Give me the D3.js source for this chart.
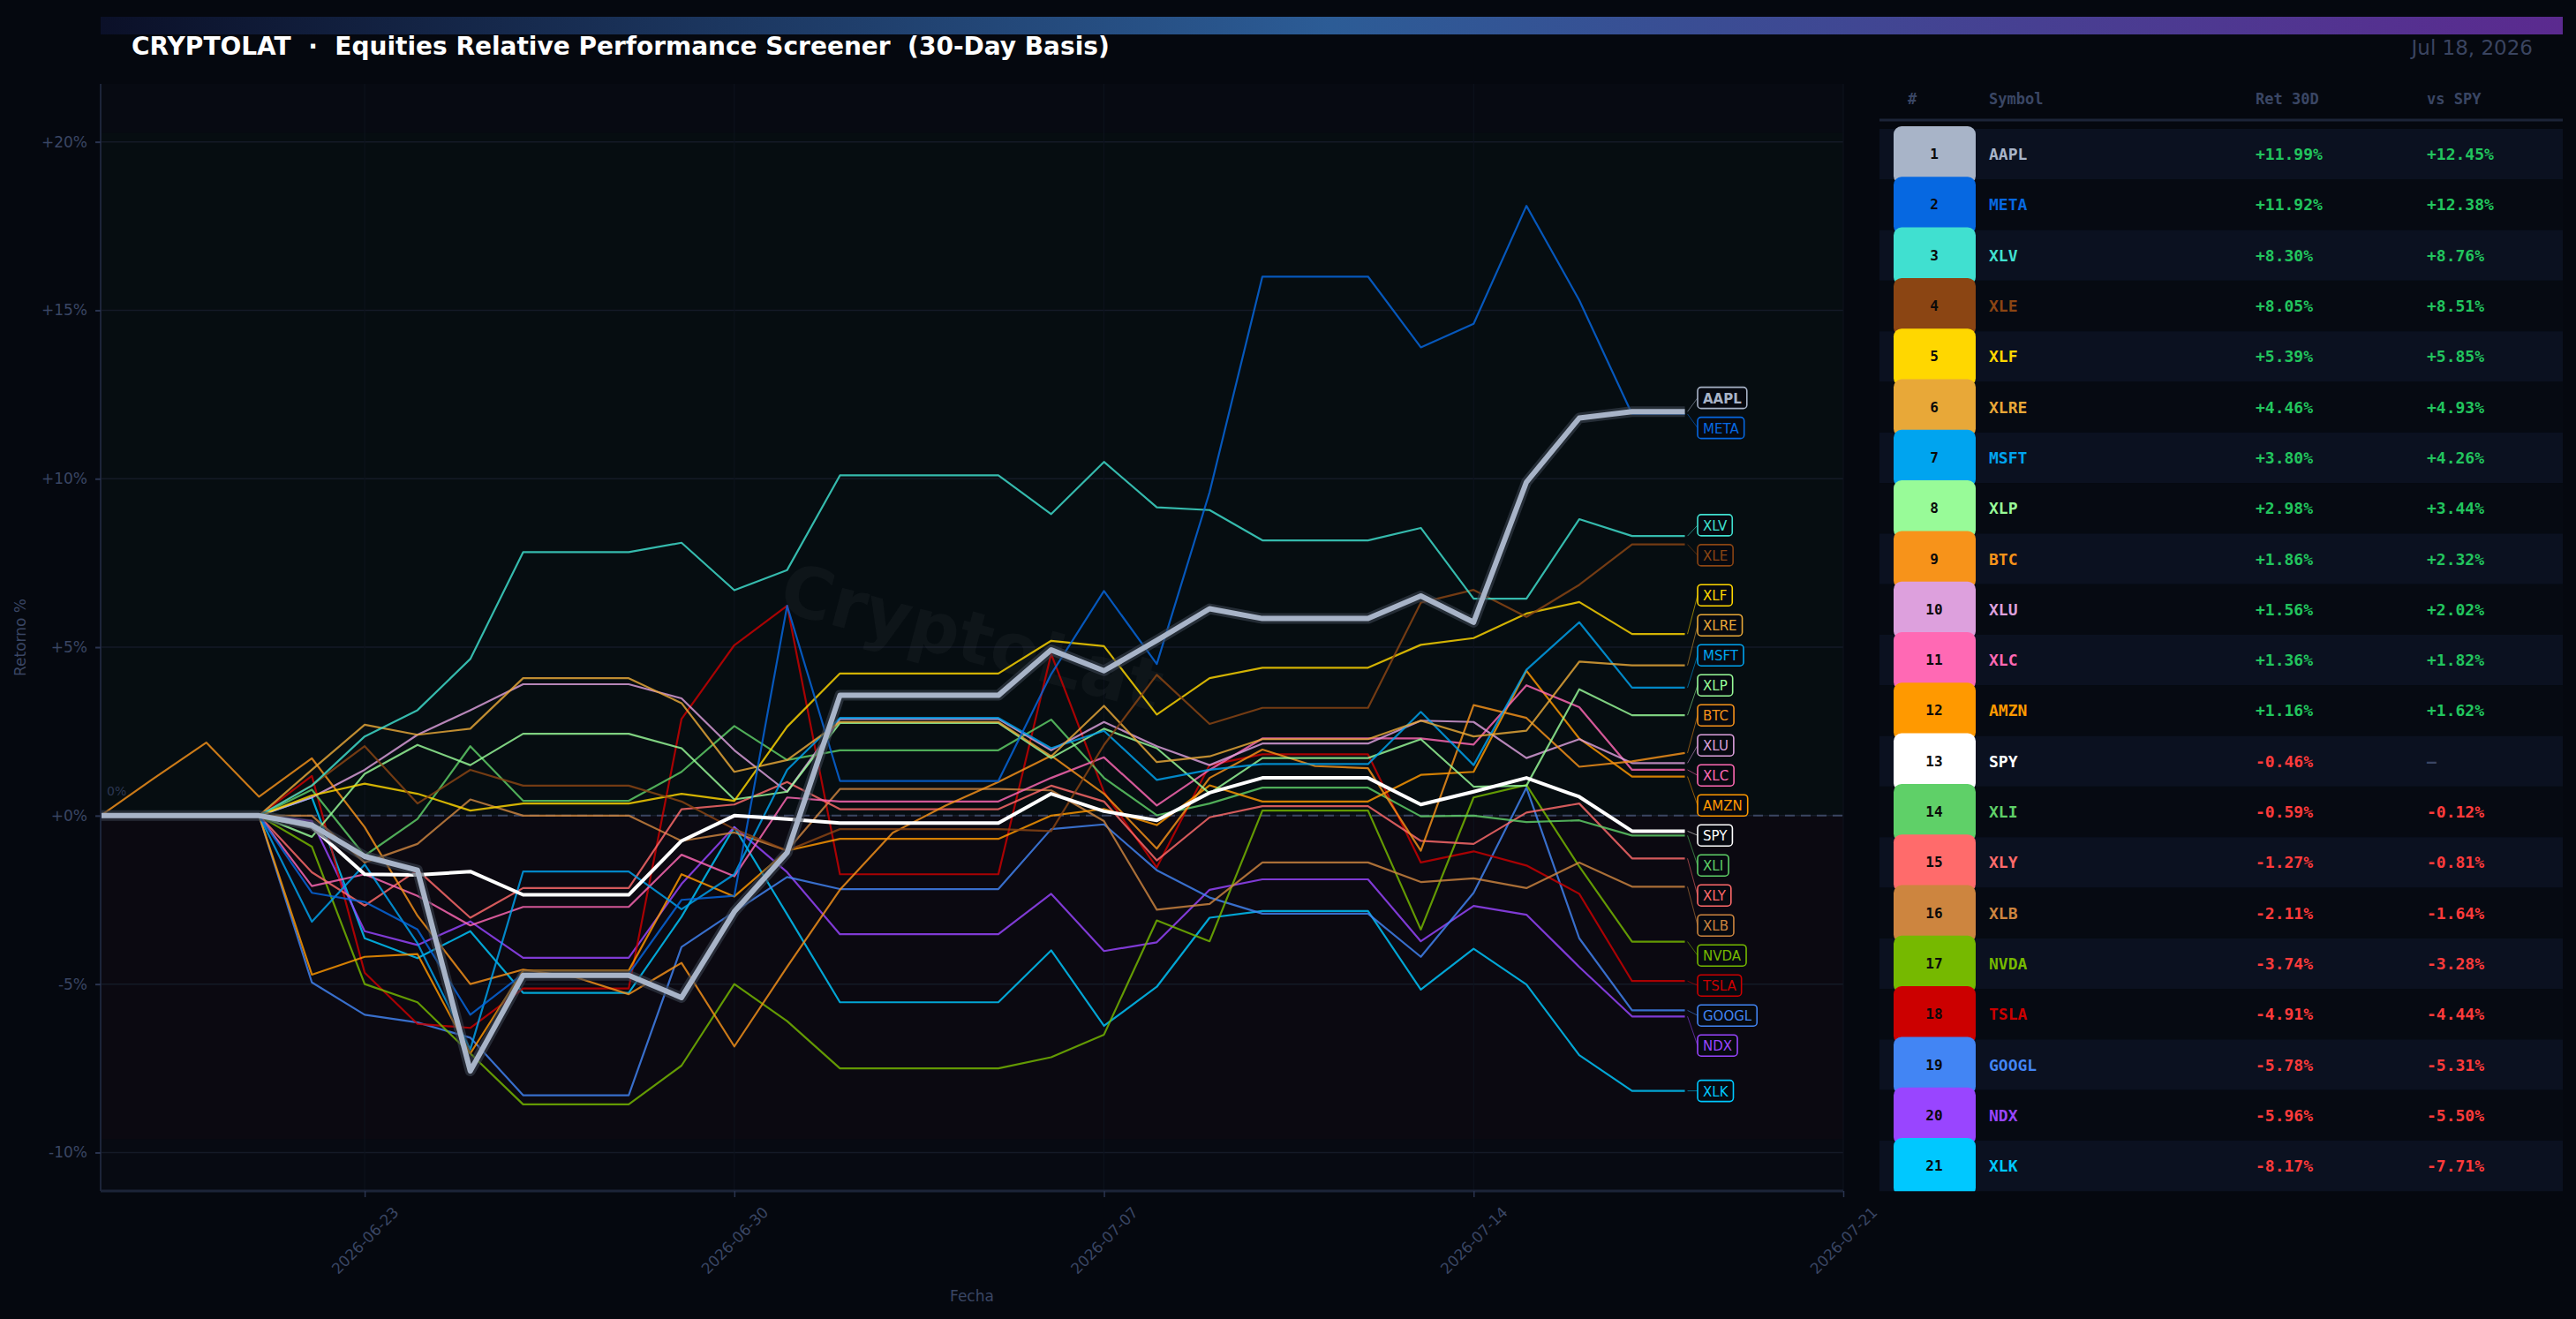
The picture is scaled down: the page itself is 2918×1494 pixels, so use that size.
<!DOCTYPE html>
<html>
<head>
<meta charset="utf-8">
<script src="https://cdn.jsdelivr.net/npm/d3@7"></script>
<style>
  html, body { margin: 0; padding: 0; background: #05080f; }
  svg { display: block; }
</style>
</head>
<body>
<svg id="chart" width="2918" height="1494"></svg>
<script>
const W = 2918, H = 1494;

// calendar days of the 30-day window (equities flat on weekends / holidays)
const dates = [
  "2026-06-18","2026-06-19","2026-06-20","2026-06-21","2026-06-22","2026-06-23","2026-06-24",
  "2026-06-25","2026-06-26","2026-06-27","2026-06-28","2026-06-29","2026-06-30","2026-07-01",
  "2026-07-02","2026-07-03","2026-07-04","2026-07-05","2026-07-06","2026-07-07","2026-07-08",
  "2026-07-09","2026-07-10","2026-07-11","2026-07-12","2026-07-13","2026-07-14","2026-07-15",
  "2026-07-16","2026-07-17","2026-07-18"
];
const xTickDates = ["2026-06-23", "2026-06-30", "2026-07-07", "2026-07-14", "2026-07-21"];
const yTicks = [-10, -5, 0, 5, 10, 15, 20];

// ranking table (sorted by 30D return)
const symbols = ["AAPL","META","XLV","XLE","XLF","XLRE","MSFT","XLP","BTC","XLU","XLC",
                 "AMZN","SPY","XLI","XLY","XLB","NVDA","TSLA","GOOGL","NDX","XLK"];
const colors = ["#A8B4C8","#0668E1","#40E0D0","#8B4513","#FFD700","#E8A838","#00A4EF",
                "#98FB98","#F7931A","#DDA0DD","#FF69B4","#FF9900","#FFFFFF","#5FD068",
                "#FF6B6B","#CD853F","#76B900","#CC0000","#4285F4","#9945FF","#00C8FF"];
const ret30 = [11.99, 11.92, 8.30, 8.05, 5.39, 4.46, 3.80, 2.98, 1.86, 1.56, 1.36,
               1.16, -0.46, -0.59, -1.27, -2.11, -3.74, -4.91, -5.78, -5.96, -8.17];
const vsSpy = [12.45, 12.38, 8.76, 8.51, 5.85, 4.93, 4.26, 3.44, 2.32, 2.02, 1.82,
               1.62, null, -0.12, -0.81, -1.64, -3.28, -4.44, -5.31, -5.50, -7.71];

// cumulative return (%) per calendar day
const AAPL  = [0,0,0,0, -0.28,-1.21,-1.62,-7.58,-4.74,-4.74,-4.74, -5.40,-2.85,-1.10,3.57,3.57,3.57,3.57, 4.92,4.30,5.20,6.14,5.85,5.85,5.85, 6.52,5.74,9.90,11.80,11.99,11.99];
const META  = [0,0,0,0, -2.29,-2.56,-3.38,-5.91,-4.70,-4.70,-4.70, -2.50,-2.38,6.23,1.03,1.03,1.03,1.03, 4.20,6.67,4.50,9.60,16.00,16.00,16.00, 13.90,14.60,18.10,15.30,11.92,11.92];
const XLV   = [0,0,0,0, 0.89,2.35,3.13,4.65,7.82,7.82,7.82, 8.10,6.69,7.29,10.10,10.10,10.10,10.10, 8.95,10.50,9.15,9.07,8.17,8.17,8.17, 8.54,6.44,6.44,8.80,8.30,8.30];
const XLE   = [0,0,0,0, 0.90,2.06,0.36,1.36,0.89,0.89,0.89, 0.42,-0.40,-1.04,-0.40,-0.40,-0.40,-0.40, -0.46,2.10,4.18,2.72,3.20,3.20,3.20, 6.32,6.70,5.90,6.85,8.05,8.05];
const XLF   = [0,0,0,0, 0.60,0.95,0.65,0.15,0.36,0.36,0.36, 0.65,0.44,2.64,4.22,4.22,4.22,4.22, 5.19,5.03,3.00,4.08,4.39,4.39,4.39, 5.07,5.27,6.00,6.34,5.39,5.39];
const XLRE  = [0,0,0,0, 1.36,2.70,2.40,2.58,4.08,4.08,4.08, 3.34,1.30,1.65,2.78,2.78,2.78,2.78, 1.76,3.26,1.59,1.76,2.27,2.27,2.27, 2.82,2.35,2.52,4.57,4.46,4.46];
const MSFT  = [0,0,0,0, -3.15,-1.45,-3.79,-6.94,-1.66,-1.66,-1.66, -2.78,-1.74,1.36,2.90,2.90,2.90,2.90, 2.00,2.52,1.06,1.36,1.53,1.53,1.53, 3.08,1.50,4.33,5.74,3.80,3.80];
const XLP   = [0,0,0,0, -0.63,1.24,2.10,1.50,2.43,2.43,2.43, 2.00,0.48,0.71,2.75,2.75,2.75,2.75, 1.71,2.58,2.00,0.66,1.71,1.71,1.71, 2.27,0.86,0.89,3.75,2.98,2.98];
const BTC   = [0,1.10,2.17,0.56, 1.70,-0.34,-2.97,-5.00,-4.57,-4.80,-5.30, -4.37,-6.85,-4.49,-2.20,-0.51,0.30,1.00, 1.78,0.65,-0.98,1.12,1.96,1.47,1.41, -1.04,3.28,2.90,1.45,1.61,1.86];
const XLU   = [0,0,0,0, 0.54,1.36,2.40,3.13,3.90,3.90,3.90, 3.48,1.94,0.71,2.87,2.87,2.87,2.87, 1.94,2.78,2.06,1.50,2.14,2.14,2.14, 2.82,2.78,1.71,2.27,1.56,1.56];
const XLC   = [0,0,0,0, -2.09,-1.74,-2.38,-3.26,-2.71,-2.71,-2.71, -1.16,-1.80,0.54,0.42,0.42,0.42,0.42, 1.12,1.73,0.30,1.36,2.29,2.29,2.29, 2.29,2.11,3.87,3.22,1.36,1.36];
const AMZN  = [0,0,0,0, -4.72,-4.19,-4.11,-7.06,-4.60,-4.60,-4.60, -1.74,-2.40,-1.04,-0.69,-0.69,-0.69,-0.69, 0.00,0.20,-0.28,0.90,0.42,0.42,0.42, 1.21,1.30,4.30,2.29,1.16,1.16];
const SPY   = [0,0,0,0, -0.34,-1.74,-1.76,-1.66,-2.35,-2.35,-2.35, -0.75,0.00,-0.10,-0.22,-0.22,-0.22,-0.22, 0.65,0.13,-0.14,0.68,1.12,1.12,1.12, 0.33,0.71,1.12,0.56,-0.46,-0.46];
const XLI   = [0,0,0,0, 0.77,-1.19,-0.10,2.06,0.44,0.44,0.44, 1.30,2.66,1.65,1.94,1.94,1.94,1.94, 2.85,1.12,0.01,0.36,0.83,0.83,0.83, -0.02,0.00,-0.19,-0.14,-0.59,-0.59];
const XLY   = [0,0,0,0, -1.68,-2.67,-1.62,-3.03,-2.15,-2.15,-2.15, 0.19,0.33,1.00,0.19,0.19,0.19,0.19, 0.89,0.42,-1.33,-0.05,0.28,0.28,0.28, -0.75,-0.84,0.09,0.36,-1.27,-1.27];
const XLB   = [0,0,0,0, 0.00,-1.39,-0.84,0.48,0.00,0.00,0.00, -0.75,-0.50,-1.04,0.79,0.79,0.79,0.79, 0.75,-0.16,-2.79,-2.62,-1.39,-1.39,-1.39, -1.97,-1.86,-2.15,-1.39,-2.11,-2.11];
const NVDA  = [0,0,0,0, -0.92,-5.00,-5.54,-7.06,-8.57,-8.57,-8.57, -7.42,-5.00,-6.10,-7.50,-7.50,-7.50,-7.50, -7.17,-6.50,-3.11,-3.73,0.15,0.15,0.15, -3.38,0.54,0.91,-1.51,-3.74,-3.74];
const TSLA  = [0,0,0,0, 1.18,-4.66,-6.18,-6.30,-5.13,-5.13,-5.13, 2.87,5.06,6.23,-1.74,-1.74,-1.74,-1.74, 4.80,0.70,-1.54,1.50,1.82,1.82,1.82, -1.39,-1.06,-1.48,-2.32,-4.91,-4.91];
const GOOGL = [0,0,0,0, -4.95,-5.91,-6.14,-6.59,-8.30,-8.30,-8.30, -3.90,-2.85,-1.82,-2.18,-2.18,-2.18,-2.18, -0.40,-0.26,-1.62,-2.43,-2.91,-2.91,-2.91, -4.19,-2.29,0.83,-3.64,-5.78,-5.78];
const NDX   = [0,0,0,0, -0.16,-3.43,-3.84,-3.14,-4.22,-4.22,-4.22, -2.03,-0.34,-1.68,-3.52,-3.52,-3.52,-3.52, -2.32,-4.02,-3.76,-2.20,-1.89,-1.89,-1.89, -3.73,-2.68,-2.94,-4.49,-5.96,-5.96];
const XLK   = [0,0,0,0, 0.54,-3.64,-4.23,-3.43,-5.26,-5.26,-5.26, -3.00,-0.34,-2.93,-5.54,-5.54,-5.54,-5.54, -4.00,-6.24,-5.08,-3.03,-2.83,-2.83,-2.83, -5.16,-3.95,-5.01,-7.11,-8.17,-8.17];

const seriesBySymbol = { AAPL, META, XLV, XLE, XLF, XLRE, MSFT, XLP, BTC, XLU, XLC,
                         AMZN, SPY, XLI, XLY, XLB, NVDA, TSLA, GOOGL, NDX, XLK };

const parseDate = d3.utcParse("%Y-%m-%d");
const dayList = dates.map(parseDate);
const rows = symbols.map((s, i) => ({
  sym: s, rank: i + 1, color: colors[i], ret: ret30[i], vs: vsSpy[i],
  values: seriesBySymbol[s].map((v, k) => ({ date: dayList[k], v }))
}));

// layout
const plot = { left: 114, right: 2088, top: 95, bottom: 1349 };
const table = { left: 2129, right: 2903, rowTop: 146, rowH: 57.3 };
const AXIS_COL = "#3a4664";
const GRID_COL = "#141a27";

const svg = d3.select("#chart");
const defs = svg.append("defs");

svg.append("rect").attr("width", W).attr("height", H).attr("fill", "#05080f");

// header gradient strip
const grad = defs.append("linearGradient").attr("id", "hdr").attr("x1", "0%").attr("x2", "100%");
grad.append("stop").attr("offset", "0%").attr("stop-color", "#0b1028");
grad.append("stop").attr("offset", "50%").attr("stop-color", "#2c5c96");
grad.append("stop").attr("offset", "100%").attr("stop-color", "#5b2a8f");
svg.append("rect").attr("x", 114).attr("y", 19).attr("width", 2903 - 114).attr("height", 20)
  .attr("fill", "url(#hdr)");

svg.append("text").attr("x", 149).attr("y", 62)
  .attr("font-family", "DejaVu Sans").attr("font-weight", "bold").attr("font-size", 28)
  .attr("fill", "#ffffff")
  .text("CRYPTOLAT  \u00b7  Equities Relative Performance Screener  (30-Day Basis)")
  .style("white-space", "pre");

svg.append("text").attr("x", 2869).attr("y", 62).attr("text-anchor", "end")
  .attr("font-family", "DejaVu Sans").attr("font-size", 23).attr("fill", "#3a4460")
  .text("Jul 18, 2026");

// scales
const allVals = rows.flatMap(r => r.values.map(d => d.v));
const vMin = d3.min(allVals), vMax = d3.max(allVals);
const x = d3.scaleUtc()
  .domain([parseDate("2026-06-18"), parseDate("2026-07-21")])
  .range([plot.left, plot.right]);
const y = d3.scaleLinear()
  .domain([vMin * 1.3, vMax * 1.2])
  .range([plot.bottom, plot.top]);

// plot background and positive / negative zones
const g = svg.append("g");
g.append("rect").attr("x", plot.left).attr("y", plot.top)
  .attr("width", plot.right - plot.left).attr("height", plot.bottom - plot.top)
  .attr("fill", "#070a12");
g.append("rect").attr("x", plot.left).attr("y", y(vMax * 1.12))
  .attr("width", plot.right - plot.left).attr("height", y(0) - y(vMax * 1.12))
  .attr("fill", "#060d11");
g.append("rect").attr("x", plot.left).attr("y", y(0))
  .attr("width", plot.right - plot.left).attr("height", y(vMin * 1.12) - y(0))
  .attr("fill", "#0b0911");

// grid
g.selectAll(".hgrid").data(yTicks).join("line").attr("class", "hgrid")
  .attr("x1", plot.left).attr("x2", plot.right)
  .attr("y1", d => y(d)).attr("y2", d => y(d))
  .attr("stroke", GRID_COL).attr("stroke-width", 1.5);
g.selectAll(".vgrid").data(xTickDates.map(parseDate)).join("line").attr("class", "vgrid")
  .attr("x1", d => x(d)).attr("x2", d => x(d))
  .attr("y1", plot.top).attr("y2", plot.bottom)
  .attr("stroke", "#0e131e").attr("stroke-width", 1);

// zero reference
g.append("line").attr("x1", plot.left).attr("x2", plot.right)
  .attr("y1", y(0)).attr("y2", y(0))
  .attr("stroke", "#3b4662").attr("stroke-width", 2).attr("stroke-dasharray", "11,7");
g.append("text").attr("x", plot.left + 7).attr("y", y(0) - 28)
  .attr("dominant-baseline", "central")
  .attr("font-family", "DejaVu Sans").attr("font-size", 14).attr("fill", "#2c3752")
  .text("0%");

// watermark
g.append("text")
  .attr("transform", `translate(${(plot.left + plot.right) / 2},${(plot.top + plot.bottom) / 2}) rotate(15)`)
  .attr("text-anchor", "middle").attr("dominant-baseline", "central")
  .attr("font-family", "DejaVu Sans").attr("font-weight", "bold").attr("font-size", 80)
  .attr("fill", "#ffffff").attr("fill-opacity", 0.035)
  .text("CryptoLat");

// lines: others (lowest first), then SPY, then AAPL on top
const line = d3.line().x(d => x(d.date)).y(d => y(d.v));
const others = rows.filter(r => r.sym !== "AAPL" && r.sym !== "SPY").reverse();
const spyRow = rows.find(r => r.sym === "SPY");
const aaplRow = rows.find(r => r.sym === "AAPL");

g.selectAll(".series").data(others).join("path").attr("class", "series")
  .attr("d", r => line(r.values))
  .attr("fill", "none").attr("stroke", r => r.color)
  .attr("stroke-width", 2.2).attr("stroke-opacity", 0.82)
  .attr("stroke-linejoin", "round");

g.append("path").attr("d", line(spyRow.values))
  .attr("fill", "none").attr("stroke", "#ffffff").attr("stroke-width", 4)
  .attr("stroke-linejoin", "round");

g.append("path").attr("d", line(aaplRow.values))
  .attr("fill", "none").attr("stroke", "#3a4250").attr("stroke-opacity", 0.6)
  .attr("stroke-width", 12).attr("stroke-linejoin", "round");
g.append("path").attr("d", line(aaplRow.values))
  .attr("fill", "none").attr("stroke", aaplRow.color).attr("stroke-width", 6)
  .attr("stroke-linejoin", "round");

// axes
const yAxis = d3.axisLeft(y).tickValues(yTicks).tickSize(6).tickPadding(9)
  .tickFormat(d => (d >= 0 ? "+" : "") + d + "%");
const yAxisG = svg.append("g").attr("transform", `translate(${plot.left},0)`).call(yAxis);
yAxisG.select(".domain").attr("stroke", "#1c2438").attr("stroke-width", 2)
  .attr("d", `M0,${plot.top}V${plot.bottom}`);
yAxisG.selectAll(".tick line").attr("stroke", "#2a3450").attr("stroke-width", 2);
yAxisG.selectAll(".tick text").attr("fill", AXIS_COL)
  .attr("font-family", "DejaVu Sans").attr("font-size", 17);

const xAxis = d3.axisBottom(x).tickValues(xTickDates.map(parseDate)).tickSize(7)
  .tickFormat(d3.utcFormat("%Y-%m-%d"));
const xAxisG = svg.append("g").attr("transform", `translate(0,${plot.bottom})`).call(xAxis);
xAxisG.select(".domain").attr("stroke", "#1c2438").attr("stroke-width", 3)
  .attr("d", `M${plot.left},0H${plot.right}`);
xAxisG.selectAll(".tick line").attr("stroke", "#2a3450").attr("stroke-width", 1.5);
xAxisG.selectAll(".tick text").attr("fill", AXIS_COL)
  .attr("font-family", "DejaVu Sans").attr("font-size", 17)
  .attr("y", 0).attr("dy", null)
  .attr("text-anchor", "middle").attr("dominant-baseline", "central")
  .attr("transform", "translate(0,56) rotate(-45)");

svg.append("text")
  .attr("transform", `translate(23,${(plot.top + plot.bottom) / 2}) rotate(-90)`)
  .attr("text-anchor", "middle").attr("dominant-baseline", "central")
  .attr("font-family", "DejaVu Sans").attr("font-size", 17).attr("fill", AXIS_COL)
  .text("Retorno %");
svg.append("text").attr("x", (plot.left + plot.right) / 2).attr("y", 1468)
  .attr("text-anchor", "middle").attr("dominant-baseline", "central")
  .attr("font-family", "DejaVu Sans").attr("font-size", 17).attr("fill", AXIS_COL)
  .text("Fecha");

// end labels, spread apart so they do not overlap
const GAP = 34;
const lastDate = dayList[dayList.length - 1];
const endLabels = rows.map(r => ({ row: r, target: y(r.values[r.values.length - 1].v) }))
  .sort((a, b) => a.target - b.target);
let groups = endLabels.map(it => ({ members: [it], pos: it.target }));
let merged = true;
while (merged) {
  merged = false;
  for (let k = 0; k < groups.length - 1; k++) {
    const g1 = groups[k], g2 = groups[k + 1];
    const end1 = g1.pos + (g1.members.length - 1) * GAP;
    if (g2.pos - end1 < GAP) {
      const members = g1.members.concat(g2.members);
      const mean = d3.mean(members, m => m.target);
      groups.splice(k, 2, { members, pos: mean - (members.length - 1) * GAP / 2 });
      merged = true;
      break;
    }
  }
}
groups.forEach(gr => gr.members.forEach((m, j) => { m.ly = gr.pos + j * GAP; }));

const labelX = 1923;
const lab = svg.append("g");
endLabels.forEach(m => {
  const c = m.row.color;
  lab.append("line").attr("x1", x(lastDate) + 3).attr("y1", m.target)
    .attr("x2", labelX).attr("y2", m.ly)
    .attr("stroke", c).attr("stroke-opacity", 0.55).attr("stroke-width", 1);
  const box = lab.append("rect").attr("x", labelX).attr("y", m.ly - 12)
    .attr("height", 24).attr("rx", 4)
    .attr("fill", "#060910").attr("stroke", c).attr("stroke-width", 1.6);
  const t = lab.append("text").attr("x", labelX + 6).attr("y", m.ly + 1)
    .attr("dominant-baseline", "central")
    .attr("font-family", "DejaVu Sans").attr("font-size", 15)
    .attr("font-weight", m.row.sym === "AAPL" ? "bold" : "normal")
    .attr("fill", c).text(m.row.sym);
  box.attr("width", t.node().getComputedTextLength() + 12);
});

// ranking table
const tb = svg.append("g");
defs.append("clipPath").attr("id", "tbl-clip").append("rect")
  .attr("x", table.left).attr("y", 130)
  .attr("width", table.right - table.left)
  .attr("height", table.rowTop + rows.length * table.rowH - 130);

const MONO = "DejaVu Sans Mono";
const headers = [["#", 2161], ["Symbol", 2253], ["Ret 30D", 2555], ["vs SPY", 2749]];
tb.selectAll(".hdr").data(headers).join("text").attr("class", "hdr")
  .attr("x", d => d[1]).attr("y", 112).attr("dominant-baseline", "central")
  .attr("font-family", MONO).attr("font-weight", "bold").attr("font-size", 17)
  .attr("fill", AXIS_COL).text(d => d[0]);
tb.append("line").attr("x1", table.left).attr("x2", table.right)
  .attr("y1", 136).attr("y2", 136).attr("stroke", "#1c2438").attr("stroke-width", 3);

const rowY = i => table.rowTop + i * table.rowH;
tb.selectAll(".stripe").data(rows).join("rect").attr("class", "stripe")
  .attr("x", table.left).attr("y", (d, i) => rowY(i))
  .attr("width", table.right - table.left).attr("height", table.rowH)
  .attr("fill", (d, i) => i % 2 === 0 ? "#0b1120" : "#060a12");

const badges = tb.append("g").attr("clip-path", "url(#tbl-clip)");
badges.selectAll(".badge").data(rows).join("rect").attr("class", "badge")
  .attr("x", 2145).attr("y", (d, i) => rowY(i) - 3)
  .attr("width", 93).attr("height", table.rowH + 8).attr("rx", 9)
  .attr("fill", d => d.color);
badges.selectAll(".rank").data(rows).join("text").attr("class", "rank")
  .attr("x", 2191).attr("y", (d, i) => rowY(i) + table.rowH / 2)
  .attr("text-anchor", "middle").attr("dominant-baseline", "central")
  .attr("font-family", MONO).attr("font-weight", "bold").attr("font-size", 16)
  .attr("fill", "#0a0a0a").text(d => d.rank);

const GREEN = "#22C55E", RED = "#FF3B3B";
const fmt = v => (v >= 0 ? "+" : "-") + Math.abs(v).toFixed(2) + "%";
const cell = (xPos, txt, fill) => sel => sel
  .attr("x", xPos).attr("y", (d, i) => rowY(i) + table.rowH / 2)
  .attr("dominant-baseline", "central")
  .attr("font-family", MONO).attr("font-weight", "bold").attr("font-size", 18)
  .attr("fill", fill).text(txt);

tb.selectAll(".sym").data(rows).join("text").attr("class", "sym")
  .call(cell(2253, d => d.sym, d => d.color));
tb.selectAll(".ret").data(rows).join("text").attr("class", "ret")
  .call(cell(2555, d => fmt(d.ret), d => d.ret >= 0 ? GREEN : RED));
tb.selectAll(".vs").data(rows).join("text").attr("class", "vs")
  .call(cell(2749, d => d.vs === null ? "\u2014" : fmt(d.vs),
             d => d.vs === null ? AXIS_COL : (d.vs >= 0 ? GREEN : RED)));
</script>
</body>
</html>
